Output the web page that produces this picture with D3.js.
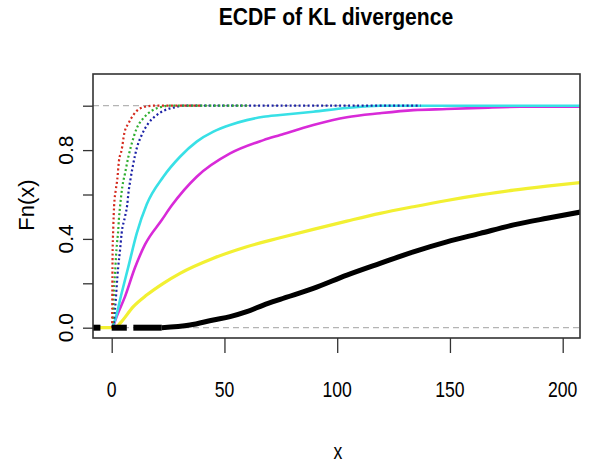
<!doctype html>
<html>
  <head>
    <script src="https://cdnjs.cloudflare.com/ajax/libs/d3/7.8.5/d3.min.js"></script>
  <style>
    body { margin: 0; background: #fff; }
    text { font-family: "Liberation Sans", Arial, sans-serif; fill: #000; }
  </style>
  </head>
  <body>
    <div id="viz">
      <svg style="width:596px;height:466px;" width="596" height="466"></svg>
    </div>
    <script>
      // values (x, Fn(x))
      var redX = [0.2, 0.4, 0.7, 1.06, 1.8, 2.5, 3.2, 4.4, 5.6, 7.4, 9.6, 12.6, 18.4, 40];
      var redF = [0, 0.33, 0.45, 0.547, 0.62, 0.67, 0.75, 0.80, 0.876, 0.92, 0.958, 0.988, 1, 1];

      var greenX = [0.5, 0.7, 1.0, 1.5, 1.9, 2.35, 2.9, 3.2, 3.7, 4.7, 5.9, 7.4, 8.9, 11.1, 14.0, 17.7, 22.2, 25.1, 60];
      var greenF = [0, 0.08, 0.17, 0.245, 0.32, 0.38, 0.44, 0.49, 0.545, 0.635, 0.695, 0.77, 0.83, 0.898, 0.943, 0.977, 0.995, 1, 1];

      var blueX = [0.8, 1.15, 1.8, 2.2, 2.9, 3.7, 4.4, 5.9, 6.9, 7.4, 8.4, 9.6, 11.1, 13.3, 16.2, 20.0, 23.6, 28.1, 31.6, 137];
      var blueF = [0, 0.05, 0.125, 0.185, 0.275, 0.35, 0.425, 0.5, 0.555, 0.605, 0.673, 0.74, 0.808, 0.868, 0.92, 0.958, 0.98, 0.993, 1, 1];

      var cyanX = [0.2, 1.5, 4.4, 7.4, 11.1, 15.5, 22.9, 30.3, 37.7, 45.1, 52.5, 59.9, 67.3, 74.7, 89.4, 104.3, 119, 209];
      var cyanF = [0, 0.035, 0.155, 0.275, 0.425, 0.555, 0.68, 0.77, 0.838, 0.883, 0.913, 0.935, 0.95, 0.958, 0.973, 0.99, 1, 1];

      var magentaX = [0.5, 2.2, 5.9, 10.3, 14.8, 22.2, 26.6, 37.7, 52.5, 67.3, 74.7, 89.4, 104.3, 119, 133.8, 148.6, 163.4, 181.1, 209];
      var magentaF = [0, 0.05, 0.14, 0.27, 0.375, 0.485, 0.55, 0.68, 0.785, 0.845, 0.868, 0.913, 0.948, 0.966, 0.98, 0.985, 0.99, 0.995, 0.995];

      var yellowX = [-8.3, 1.5, 3.7, 9.6, 15.5, 22.9, 30.3, 45.1, 59.9, 74.7, 89.4, 104.3, 119, 133.8, 148.6, 163.4, 178.2, 193, 209];
      var yellowF = [0, 0, 0.02, 0.095, 0.147, 0.2, 0.245, 0.313, 0.365, 0.405, 0.443, 0.48, 0.515, 0.545, 0.573, 0.598, 0.62, 0.638, 0.655];

      var blackX = [22.2, 34.7, 45.1, 52.5, 59.9, 67.3, 74.7, 89.4, 104.3, 119, 133.8, 148.6, 163.4, 178.2, 193, 209];
      var blackF = [0, 0.012, 0.035, 0.05, 0.072, 0.102, 0.128, 0.177, 0.237, 0.29, 0.342, 0.387, 0.425, 0.463, 0.493, 0.523];
      // flat part of the black ecdf at 0, drawn as separate pieces
      var blackZeroFrom = [-8.3, 0, 9.6];
      var blackZeroTo = [-5, 6.7, 22.2];

      var xTicks = [0, 50, 100, 150, 200];
      var yTicks = [0, 0.2, 0.4, 0.6, 0.8, 1.0];
      var yLabels = ["0.0", "", "0.4", "", "0.8", ""];

      var svg = d3.select("svg");
      var boxL = 93, boxR = 580, boxT = 74, boxB = 338;

      var xScale = d3.scaleLinear().domain([0, 200]).range([111.7, 562.7]);
      var yScale = d3.scaleLinear().domain([0, 1]).range([327.7, 105.7]);

      svg.append("clipPath").attr("id", "plotclip")
        .append("rect")
          .attr("x", boxL).attr("y", boxT)
          .attr("width", boxR - boxL).attr("height", boxB - boxT);

      var plot = svg.append("g").attr("clip-path", "url(#plotclip)");

      // reference lines at 0 and 1
      plot.selectAll("line.ref")
        .data([0, 1])
        .enter()
        .append("line")
          .attr("class", "ref")
          .attr("x1", boxL).attr("x2", boxR)
          .attr("y1", d => yScale(d)).attr("y2", d => yScale(d))
          .style("stroke", "#b4b4b4")
          .style("stroke-width", 1.3)
          .style("stroke-dasharray", "6,4");

      function zip(xs, fs) {
        return xs.map((x, i) => [x, fs[i]]);
      }

      var line = d3.line()
        .curve(d3.curveMonotoneX)
        .x(d => xScale(d[0]))
        .y(d => yScale(d[1]));

      var series = [
        {pts: zip(yellowX, yellowF), color: "#f2f032", width: 3.2, dash: null},
        {pts: zip(magentaX, magentaF), color: "#d82ad8", width: 2.6, dash: null},
        {pts: zip(cyanX, cyanF), color: "#38e0e6", width: 2.6, dash: null},
        {pts: zip(blueX, blueF), color: "#1c22a6", width: 2.2, dash: "2,2.5"},
        {pts: zip(greenX, greenF), color: "#2eae2e", width: 2.2, dash: "2,2.5"},
        {pts: zip(redX, redF), color: "#d42a1e", width: 2.2, dash: "2,2.5"},
        {pts: zip(blackX, blackF), color: "#000", width: 5, dash: null}
      ];

      plot.selectAll("path.ecdf")
        .data(series)
        .enter()
        .append("path")
          .attr("class", "ecdf")
          .attr("d", d => line(d.pts))
          .style("fill", "none")
          .style("stroke", d => d.color)
          .style("stroke-width", d => d.width)
          .style("stroke-dasharray", d => d.dash);

      plot.selectAll("line.zero")
        .data(blackZeroFrom)
        .enter()
        .append("line")
          .attr("class", "zero")
          .attr("x1", d => xScale(d))
          .attr("x2", (d, i) => xScale(blackZeroTo[i]))
          .attr("y1", yScale(0)).attr("y2", yScale(0))
          .style("stroke", "#000")
          .style("stroke-width", 6);

      // frame
      svg.append("rect")
        .attr("x", boxL).attr("y", boxT)
        .attr("width", boxR - boxL).attr("height", boxB - boxT)
        .style("fill", "none")
        .style("stroke", "#333")
        .style("stroke-width", 1.6);

      // axes
      var xAxis = d3.axisBottom(xScale).tickValues(xTicks).tickSize(15).tickFormat("");
      var xG = svg.append("g").attr("transform", "translate(0," + boxB + ")").call(xAxis);
      xG.select("path.domain").remove();
      xG.selectAll("line").style("stroke", "#333").style("stroke-width", 1.3);

      var yAxis = d3.axisLeft(yScale).tickValues(yTicks).tickSize(10).tickFormat("");
      var yG = svg.append("g").attr("transform", "translate(" + boxL + ",0)").call(yAxis);
      yG.select("path.domain").remove();
      yG.selectAll("line").style("stroke", "#333").style("stroke-width", 1.3);

      svg.selectAll("text.xlab")
        .data(xTicks)
        .enter()
        .append("text")
          .attr("class", "xlab")
          .attr("text-anchor", "middle")
          .attr("transform", d => "translate(" + xScale(d) + ",397) scale(0.8,1)")
          .style("font-size", "22px")
          .text(d => d);

      svg.selectAll("text.ylab")
        .data(yTicks)
        .enter()
        .append("text")
          .attr("class", "ylab")
          .attr("text-anchor", "middle")
          .attr("transform", d => "translate(73," + yScale(d) + ") rotate(-90)")
          .style("font-size", "21px")
          .text((d, i) => yLabels[i]);

      svg.append("text")
        .attr("text-anchor", "middle")
        .attr("transform", "translate(336,25) scale(0.92,1)")
        .style("font-size", "23px")
        .style("font-weight", "bold")
        .text("ECDF of KL divergence");

      svg.append("text")
        .attr("text-anchor", "middle")
        .attr("transform", "translate(338,459) scale(0.8,1)")
        .style("font-size", "22px")
        .text("x");

      svg.append("text")
        .attr("text-anchor", "middle")
        .attr("transform", "translate(34,205) rotate(-90)")
        .style("font-size", "22px")
        .text("Fn(x)");
    </script>
  </body>
</html>
